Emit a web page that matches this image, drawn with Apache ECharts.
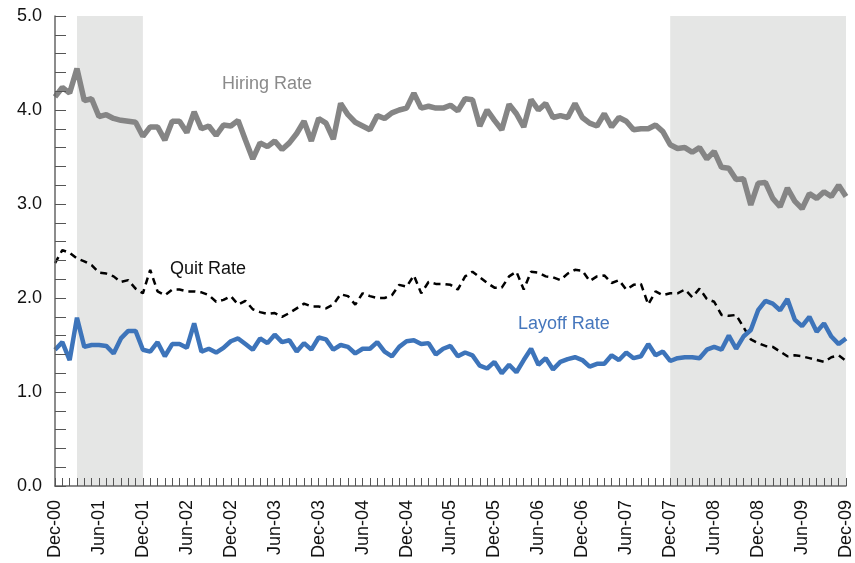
<!DOCTYPE html>
<html>
<head>
<meta charset="utf-8">
<script src="https://cdn.jsdelivr.net/npm/echarts@6/dist/echarts.min.js"></script>
<style>
  html, body { margin: 0; padding: 0; background: #fff; }
  #chart { width: 855px; height: 563px; }
</style>
</head>
<body>
<div id="chart"></div>
<script>
// month labels Dec-00 .. Dec-09
var monthNames = ["Jan", "Feb", "Mar", "Apr", "May", "Jun", "Jul", "Aug", "Sep", "Oct", "Nov", "Dec"];
var categories = ["Dec-00"];
for (var y = 1; y <= 9; y++) {
  for (var m = 0; m < 12; m++) {
    categories.push(monthNames[m] + "-0" + y);
  }
}

var hiringRate = [
  4.14, 4.24, 4.18, 4.44, 4.10, 4.12, 3.93, 3.95, 3.91, 3.89, 3.88, 3.87,
  3.72, 3.82, 3.82, 3.68, 3.88, 3.88, 3.76, 3.98, 3.80, 3.83, 3.73, 3.84,
  3.83, 3.89, 3.68, 3.48, 3.65, 3.61, 3.67, 3.58, 3.65, 3.75, 3.88, 3.67,
  3.91, 3.86, 3.69, 4.07, 3.95, 3.87, 3.83, 3.79, 3.94, 3.91, 3.97, 4.00,
  4.02, 4.18, 4.02, 4.04, 4.02, 4.02, 4.05, 3.99, 4.12, 4.11, 3.83, 4.00,
  3.89, 3.79, 4.06, 3.96, 3.82, 4.11, 4.00, 4.07, 3.92, 3.94, 3.92, 4.07,
  3.92, 3.86, 3.83, 3.96, 3.82, 3.92, 3.88, 3.79, 3.80, 3.80, 3.84, 3.77,
  3.63, 3.59, 3.60, 3.55, 3.60, 3.48, 3.56, 3.39, 3.38, 3.26, 3.27, 2.99,
  3.22, 3.23, 3.06, 2.97, 3.17, 3.03, 2.95, 3.11, 3.06, 3.13, 3.08, 3.20,
  3.08
];

var quitRate = [
  2.37, 2.51, 2.48, 2.42, 2.39, 2.35, 2.27, 2.26, 2.23, 2.17, 2.19, 2.10,
  2.05, 2.30, 2.07, 2.03, 2.09, 2.09, 2.07, 2.07, 2.06, 2.03, 1.96, 1.98,
  2.02, 1.93, 1.97, 1.88, 1.85, 1.83, 1.84, 1.80, 1.84, 1.89, 1.94, 1.91,
  1.91, 1.89, 1.93, 2.04, 2.02, 1.93, 2.05, 2.02, 2.00, 2.00, 2.03, 2.14,
  2.12, 2.24, 2.05, 2.17, 2.15, 2.15, 2.14, 2.09, 2.23, 2.28, 2.22, 2.16,
  2.11, 2.11, 2.23, 2.28, 2.09, 2.28, 2.27, 2.23, 2.22, 2.19, 2.26, 2.30,
  2.29, 2.18, 2.23, 2.24, 2.16, 2.19, 2.09, 2.14, 2.15, 1.93, 2.07, 2.03,
  2.05, 2.05, 2.09, 2.01, 2.10, 1.99, 1.96, 1.82, 1.81, 1.82, 1.69, 1.56,
  1.52, 1.49, 1.48, 1.43, 1.38, 1.39, 1.38, 1.36, 1.34, 1.32, 1.37, 1.39,
  1.33
];

var layoffRate = [
  1.45, 1.53, 1.34, 1.79, 1.48, 1.50, 1.50, 1.49, 1.41, 1.57, 1.65, 1.65,
  1.45, 1.43, 1.53, 1.38, 1.51, 1.51, 1.47, 1.73, 1.43, 1.46, 1.42, 1.47,
  1.54, 1.57, 1.51, 1.45, 1.57, 1.52, 1.61, 1.53, 1.55, 1.43, 1.52, 1.45,
  1.58, 1.56, 1.45, 1.50, 1.48, 1.41, 1.46, 1.46, 1.53, 1.43, 1.38, 1.48,
  1.54, 1.55, 1.51, 1.52, 1.40, 1.46, 1.49, 1.38, 1.42, 1.39, 1.28, 1.25,
  1.32, 1.20, 1.29, 1.21, 1.34, 1.46, 1.29, 1.36, 1.24, 1.32, 1.35, 1.37,
  1.34, 1.27, 1.30, 1.30, 1.39, 1.34, 1.42, 1.36, 1.38, 1.51, 1.39, 1.43,
  1.33, 1.36, 1.37, 1.37, 1.36, 1.45, 1.48, 1.45, 1.60, 1.46, 1.59, 1.66,
  1.87, 1.97, 1.94, 1.87, 1.99, 1.77, 1.70, 1.80, 1.64, 1.73, 1.59, 1.51,
  1.57
];

// recession shading
var recessions = [["Mar-01", "Dec-01"], ["Dec-07", "Dec-09"]];

var FONT = "Liberation Sans";
var chart = echarts.init(document.getElementById("chart"));

var option = {
  animation: false,
  grid: { left: 55, right: 7, top: 16, bottom: 77 },
  xAxis: {
    type: "category",
    data: categories,
    boundaryGap: false,
    z: 5,
    axisLine: { lineStyle: { color: "#666", width: 1.5 } },
    axisTick: { interval: 0, inside: true, length: 8, lineStyle: { color: "#555", width: 1 } },
    axisLabel: {
      interval: 5,
      rotate: 90,
      margin: 14,
      fontSize: 18,
      fontFamily: FONT,
      color: "#111"
    },
    splitLine: { show: false }
  },
  yAxis: {
    type: "value",
    min: 0,
    max: 5,
    interval: 0.2,
    z: 5,
    axisLine: { show: true, lineStyle: { color: "#666", width: 1.5 } },
    axisTick: { show: true, inside: true, length: 11, lineStyle: { color: "#555", width: 1 } },
    axisLabel: {
      margin: 13,
      fontSize: 18,
      fontFamily: FONT,
      color: "#111",
      formatter: function (v) {
        return Math.abs(v - Math.round(v)) < 1e-6 ? v.toFixed(1) : "";
      }
    },
    splitLine: { show: false }
  },
  series: [
    {
      // shading only
      type: "line",
      data: [],
      z: 1,
      silent: true,
      markArea: {
        silent: true,
        itemStyle: { color: "#e5e6e5" },
        data: recessions.map(function (r) {
          return [{ xAxis: r[0] }, { xAxis: r[1] }];
        })
      }
    },
    {
      name: "Hiring Rate",
      type: "line",
      data: hiringRate,
      z: 3,
      showSymbol: false,
      lineStyle: { color: "#858585", width: 5.5 }
    },
    {
      name: "Quit Rate",
      type: "line",
      data: quitRate,
      z: 3,
      showSymbol: false,
      lineStyle: { color: "#000", width: 2.5, type: [7, 5] }
    },
    {
      name: "Layoff Rate",
      type: "line",
      data: layoffRate,
      z: 4,
      showSymbol: false,
      lineStyle: { color: "#3d74ba", width: 4.5 }
    }
  ],
  graphic: [
    { type: "text", left: 222, top: 75, style: { text: "Hiring Rate", fill: "#8a8a8a", font: "18px " + FONT } },
    { type: "text", left: 170, top: 260, style: { text: "Quit Rate", fill: "#111", font: "18px " + FONT } },
    { type: "text", left: 518, top: 315, style: { text: "Layoff Rate", fill: "#4677bd", font: "18px " + FONT } }
  ]
};

chart.setOption(option);
</script>
</body>
</html>
